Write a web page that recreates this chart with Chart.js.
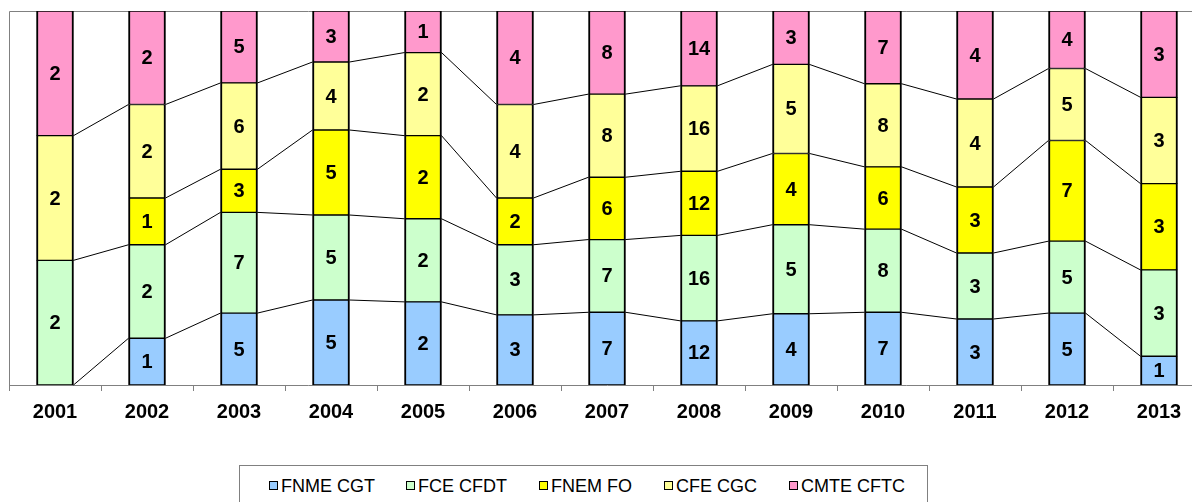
<!DOCTYPE html>
<html>
<head>
<meta charset="utf-8">
<script src="https://cdn.jsdelivr.net/npm/chart.js@4.4.0/dist/chart.umd.min.js"></script>
<style>
  html, body { margin: 0; padding: 0; background: #fff; overflow: hidden; width: 1192px; height: 502px; }
  #wrap { position: absolute; left: 0; top: 0; width: 1215px; height: 460px; }
  #legend { position: absolute; left: 239px; top: 465px; width: 689px; height: 50px; border: 1px solid #808080; box-sizing: border-box; background: #fff; }
  .item { position: absolute; top: 10px; font-family: Arial, "Liberation Sans", sans-serif; font-size: 18px; color: #000; white-space: nowrap; line-height: 20px; }
  .sw { display: inline-block; width: 7px; height: 7px; border: 1px solid #000; margin-right: 3px; vertical-align: 2px; }
</style>
</head>
<body>
<div id="wrap"><canvas id="c" width="1215" height="460"></canvas></div>
<div id="legend"></div>
<script>
const years = ["2001","2002","2003","2004","2005","2006","2007","2008","2009","2010","2011","2012","2013"];
const seriesNames = ["FNME CGT","FCE CFDT","FNEM FO","CFE CGC","CMTE CFTC"];
const fnmeCgt  = [0,1,5,5,2,3,7,12,4,7,3,5,1];
const fceCfdt  = [2,2,7,5,2,3,7,16,5,8,3,5,3];
const fnemFo   = [null,1,3,5,2,2,6,12,4,6,3,7,3];
const cfeCgc   = [2,2,6,4,2,4,8,16,5,8,4,5,3];
const cmteCftc = [2,2,5,3,1,4,8,14,3,7,4,4,3];
const colors = ["#99CCFF","#CCFFCC","#FFFF00","#FFFF99","#FF99CC"];

const raw = [fnmeCgt, fceCfdt, fnemFo, cfeCgc, cmteCftc];
const val = (d, i) => raw[d][i] || 0;
const totals = years.map((_, i) => raw.reduce((s, a, d) => s + val(d, i), 0));
const pct = raw.map((a, d) => a.map((v, i) => !v ? null : v / totals[i] * 100));

// legend
const legendPos = [29, 166, 299, 424, 549];
const lg = document.getElementById('legend');
seriesNames.forEach((n, k) => {
  const d = document.createElement('div');
  d.className = 'item';
  d.style.left = legendPos[k] + 'px';
  d.innerHTML = '<span class="sw" style="background:' + colors[k] + '"></span>' + n;
  lg.appendChild(d);
});

const overlay = {
  id: 'overlay',
  beforeDatasetsDraw(chart) {
    const ctx = chart.ctx, a = chart.chartArea;
    ctx.save();
    ctx.strokeStyle = '#808080';
    ctx.lineWidth = 1;
    ctx.beginPath();
    ctx.moveTo(a.left + 0.5, a.bottom);
    ctx.lineTo(a.left + 0.5, a.top + 0.5);
    ctx.lineTo(a.right, a.top + 0.5);
    ctx.stroke();
    // series lines (skipped where a cell is blank)
    const xs = chart.scales.x, ys = chart.scales.y;
    const half = 18.5;
    ctx.strokeStyle = '#000';
    ctx.lineWidth = 1;
    for (let d = 0; d < raw.length - 1; d++) {
      for (let i = 0; i < years.length - 1; i++) {
        if (raw[d][i] === null || raw[d][i + 1] === null) continue;
        let c0 = 0, c1 = 0;
        for (let k = 0; k <= d; k++) { c0 += val(k, i) / totals[i] * 100; c1 += val(k, i + 1) / totals[i + 1] * 100; }
        ctx.beginPath();
        ctx.moveTo(xs.getPixelForValue(i) + half, ys.getPixelForValue(c0));
        ctx.lineTo(xs.getPixelForValue(i + 1) - half, ys.getPixelForValue(c1));
        ctx.stroke();
      }
    }
    ctx.restore();
  },
  afterDatasetsDraw(chart) {
    const ctx = chart.ctx;
    const xs = chart.scales.x, ys = chart.scales.y;
    ctx.save();
    ctx.font = 'bold 20px Arial, "Liberation Sans", sans-serif';
    ctx.fillStyle = '#000';
    ctx.textAlign = 'center';
    ctx.textBaseline = 'middle';
    for (let i = 0; i < years.length; i++) {
      let cum = 0;
      for (let d = 0; d < raw.length; d++) {
        const v = val(d, i);
        const p = v / totals[i] * 100;
        if (v > 0) ctx.fillText(String(v), xs.getPixelForValue(i), ys.getPixelForValue(cum + p / 2) + 1);
        cum += p;
      }
    }
    ctx.restore();
  }
};

new Chart(document.getElementById('c'), {
  type: 'bar',
  data: {
    labels: years,
    datasets: seriesNames.map((n, k) => ({
      label: n,
      data: pct[k],
      backgroundColor: colors[k],
      borderColor: '#000',
      borderWidth: {left: 2, right: 2, top: 1, bottom: 1},
      borderSkipped: false,
      barThickness: 37
    }))
  },
  options: {
    responsive: false,
    animation: false,
    layout: { padding: { top: 11, left: 9, right: 10, bottom: 27 } },
    plugins: { legend: { display: false }, tooltip: { enabled: false } },
    scales: {
      x: {
        stacked: true,
        grid: { offset: true, drawOnChartArea: false, tickLength: 6, color: '#808080' },
        border: { color: '#808080', width: 1 },
        ticks: { color: '#000', padding: 9, font: { family: 'Arial, "Liberation Sans", sans-serif', size: 20, weight: 'bold' } }
      },
      y: {
        stacked: true,
        min: 0, max: 100,
        ticks: { display: false },
        grid: { display: false, drawTicks: false },
        border: { display: false }
      }
    }
  },
  plugins: [overlay]
});
</script>
</body>
</html>
